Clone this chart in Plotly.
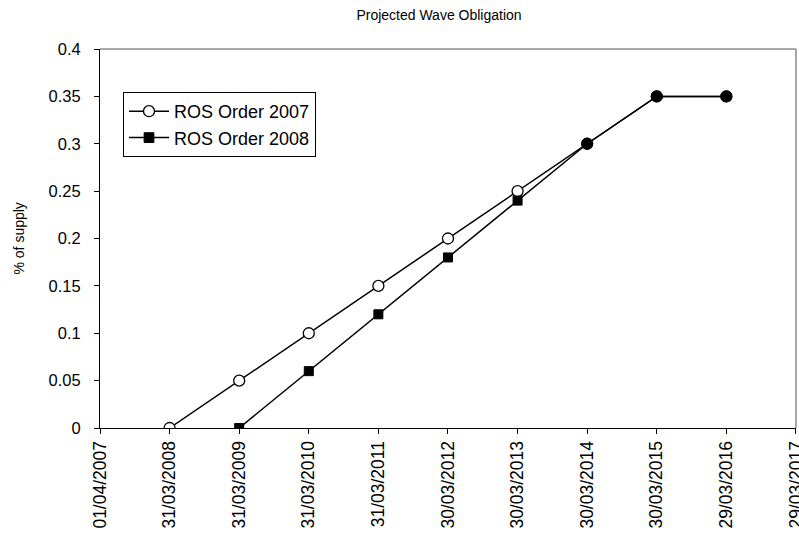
import datetime as dt
import plotly.graph_objects as go

# Axis tick dates (365-day steps) and the two obligation series
tick_dates = ["2007-04-01", "2008-03-31", "2009-03-31", "2010-03-31", "2011-03-31",
              "2012-03-30", "2013-03-30", "2014-03-30", "2015-03-30", "2016-03-29",
              "2017-03-29"]

dates_2007 = ["2008-03-31", "2009-03-31", "2010-03-31", "2011-03-31", "2012-03-30",
              "2013-03-30", "2014-03-30", "2015-03-30", "2016-03-29"]
ros_2007 = [0, 0.05, 0.10, 0.15, 0.20, 0.25, 0.30, 0.35, 0.35]

dates_2008 = ["2009-03-31", "2010-03-31", "2011-03-31", "2012-03-30",
              "2013-03-30", "2014-03-30", "2015-03-30", "2016-03-29"]
ros_2008 = [0, 0.06, 0.12, 0.18, 0.24, 0.30, 0.35, 0.35]

y_ticks = [0, 0.05, 0.1, 0.15, 0.2, 0.25, 0.3, 0.35, 0.4]
y_tick_text = ["0", "0.05", "0.1", "0.15", "0.2", "0.25", "0.3", "0.35", "0.4"]

x_tick_text = [dt.date.fromisoformat(d).strftime("%d/%m/%Y") for d in tick_dates]

FONT = "Liberation Sans, Arial, sans-serif"
W, H = 799, 533
L, R, T, B = 100, 3, 49, 105

fig = go.Figure()

fig.add_trace(go.Scatter(
    x=dates_2007, y=ros_2007, name="ROS Order 2007", mode="lines+markers",
    line=dict(color="black", width=1.5),
    marker=dict(symbol="circle", size=11, color="white", opacity=1,
                line=dict(color="black", width=1.3)),
))

# later points of the 2008 order coincide with 2007 and are shown as solid dots
sym_2008 = ["square"] * 5 + ["circle"] * 3
size_2008 = [9] * 5 + [11] * 3
fig.add_trace(go.Scatter(
    x=dates_2008, y=ros_2008, name="ROS Order 2008", mode="lines+markers",
    line=dict(color="black", width=1.5),
    marker=dict(symbol=sym_2008, size=size_2008, color="#000000", opacity=1,
                line=dict(color="#000000", width=1)),
))

pw = W - L - R
ph = H - T - B

# end of the date range nudged past the last tick so its label is kept
x_end = (dt.datetime.fromisoformat(tick_dates[-1]) + dt.timedelta(hours=6)).isoformat()

fig.update_layout(
    width=W, height=H,
    margin=dict(l=L, r=R, t=T, b=B, autoexpand=False),
    paper_bgcolor="white", plot_bgcolor="white",
    font=dict(family=FONT, size=17, color="black"),
    showlegend=True,
    legend=dict(
        x=(123 - L) / pw, y=(H - B - 92) / ph, xanchor="left", yanchor="top",
        bordercolor="black", borderwidth=1, bgcolor="white",
        font=dict(family=FONT, size=18, color="black"),
        itemwidth=40, tracegroupgap=0,
    ),
    title=dict(text="Projected Wave Obligation", x=439 / W, xref="container",
               xanchor="center", y=1 - 15 / H, yref="container", yanchor="middle",
               font=dict(family=FONT, size=14, color="black")),
    xaxis=dict(
        type="date", range=[tick_dates[0], x_end], automargin=False,
        tickmode="array", tickvals=tick_dates, ticktext=x_tick_text,
        tickangle=-90, ticks="outside", ticklen=5, tickcolor="black",
        ticklabeloverflow="allow",
        showline=True, linecolor="black", linewidth=1,
        showgrid=False, zeroline=False,
        tickfont=dict(family=FONT, size=17.5, color="black"),
    ),
    yaxis=dict(
        range=[0, 0.4], tickmode="array", tickvals=y_ticks, ticktext=y_tick_text,
        automargin=False,
        ticks="outside", ticklen=5, tickcolor="black", ticklabelstandoff=10,
        showline=True, linecolor="black", linewidth=1,
        showgrid=False, zeroline=False,
        tickfont=dict(family=FONT, size=16.5, color="black"),
    ),
    annotations=[dict(
        text="% of supply", xref="paper", yref="paper",
        x=(18 - L) / pw, y=0.5, textangle=-90, showarrow=False,
        xanchor="center", yanchor="middle",
        font=dict(family=FONT, size=14, color="black"),
    )],
    shapes=[
        dict(type="line", xref="paper", yref="paper", x0=0, x1=1, y0=1, y1=1,
             line=dict(color="#8c8c8c", width=1.5)),
        dict(type="line", xref="paper", yref="paper", x0=1, x1=1, y0=0, y1=1,
             line=dict(color="#8c8c8c", width=1.5)),
    ],
)

fig.write_html("out.html")
